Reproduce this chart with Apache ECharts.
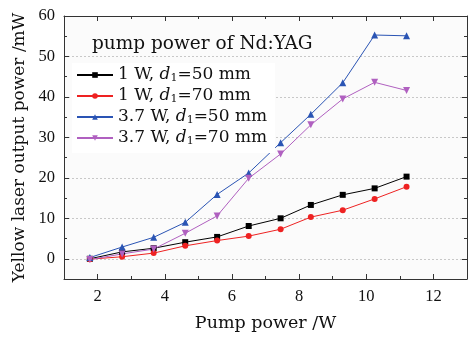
<!DOCTYPE html>
<html><head><meta charset="utf-8">
<script src="https://cdn.jsdelivr.net/npm/echarts@6/dist/echarts.min.js"></script>
<style>html,body{margin:0;padding:0;background:#fff}#c{width:476px;height:337px}</style>
</head><body><div id="c"></div>
<script>
const pumpX = [1.77, 2.73, 3.67, 4.61, 5.56, 6.5, 7.45, 8.35, 9.3, 10.25, 11.2];
const w1d50 = [0.0, 1.7, 2.6, 4.1, 5.4, 8.1, 10.0, 13.3, 15.8, 17.4, 20.3];
const w1d70 = [-0.1, 0.5, 1.4, 3.2, 4.5, 5.6, 7.3, 10.3, 12.0, 14.8, 17.8];
const w37d50 = [0.3, 2.9, 5.3, 9.0, 15.9, 21.2, 28.7, 35.7, 43.5, 55.3, 55.1];
const w37d70 = [-0.2, 1.2, 2.4, 6.3, 10.6, 19.9, 25.9, 33.1, 39.5, 43.6, 41.6];
const names = ['1 W, {i|d}{s|1}=50 mm', '1 W, {i|d}{s|1}=70 mm', '3.7 W, {i|d}{s|1}=50 mm', '3.7 W, {i|d}{s|1}=70 mm'];
const keys = ['a','b','c','d'];
const FONT = 'DejaVu Serif';
const NUMFONT = 'Liberation Serif';
const pair = arr => pumpX.map((x,i)=>[x, arr[i]]);
const chart = echarts.init(document.getElementById('c'));
const axisCommon = {
  axisLine:{show:true, onZero:false, lineStyle:{color:'#333', width:1}},
  axisTick:{show:true, inside:true, length:5, lineStyle:{color:'#333'}},
  minorTick:{show:true, splitNumber:2, length:3, lineStyle:{color:'#333'}},
};
const mk = (key, data, color, symbol, size) => ({
  name:key, type:'line', data:pair(data), symbol, symbolSize:size,
  lineStyle:{color, width:1}, itemStyle:{color}, z:3
});
chart.setOption({
  animation:false,
  grid:{left:64, right:9, top:16, bottom:49, show:true, backgroundColor:'#fbfbfb', borderWidth:0},
  title:{text:'pump power of Nd:YAG', left:87, top:30, textStyle:{fontFamily:FONT, fontWeight:'normal', fontSize:18.5, color:'#111'}},
  legend:{
    orient:'vertical', left:72, top:63, itemGap:3, itemWidth:36, itemHeight:7,
    backgroundColor:'#fff', padding:[3,8,6,4],
    data:keys,
    formatter: n => names[keys.indexOf(n)],
    textStyle:{fontFamily:FONT, fontSize:17, color:'#111', lineHeight:18,
      rich:{i:{fontFamily:FONT, fontStyle:'italic', fontSize:17}, s:{fontFamily:FONT, fontSize:11, verticalAlign:'bottom', padding:[10,0,0,0]}}}
  },
  xAxis:[
    Object.assign({type:'value', min:1, max:13, name:'Pump power /W', nameLocation:'middle', nameGap:35,
      nameTextStyle:{fontFamily:FONT, fontSize:17.5, color:'#111'},
      axisLabel:{fontFamily:NUMFONT, fontSize:16.5, color:'#111', margin:9, showMinLabel:false, showMaxLabel:false},
      splitLine:{show:false}}, axisCommon),
    Object.assign({type:'value', min:1, max:13, position:'top', axisLabel:{show:false}, splitLine:{show:false}}, axisCommon)
  ],
  yAxis:[
    Object.assign({type:'value', min:-5, max:60, name:'Yellow laser output power /mW', nameLocation:'middle', nameGap:29,
      nameTextStyle:{fontFamily:FONT, fontSize:17, color:'#111'},
      axisLabel:{fontFamily:NUMFONT, fontSize:16.5, color:'#111', margin:9, showMinLabel:false},
      splitLine:{show:true, lineStyle:{color:'#c8c8c8', type:[2,2], width:1}}}, axisCommon),
    Object.assign({type:'value', min:-5, max:60, position:'right', axisLabel:{show:false}, splitLine:{show:false}}, axisCommon)
  ],
  series:[
    mk('a', w1d50, '#000000', 'rect', 6),
    mk('b', w1d70, '#ee2222', 'circle', 6),
    mk('c', w37d50, '#2a54b4', 'triangle', 7),
    mk('d', w37d70, '#b060c0', 'path://M0,0 L10,0 L5,9 Z', 7)
  ]
});
</script></body></html>
